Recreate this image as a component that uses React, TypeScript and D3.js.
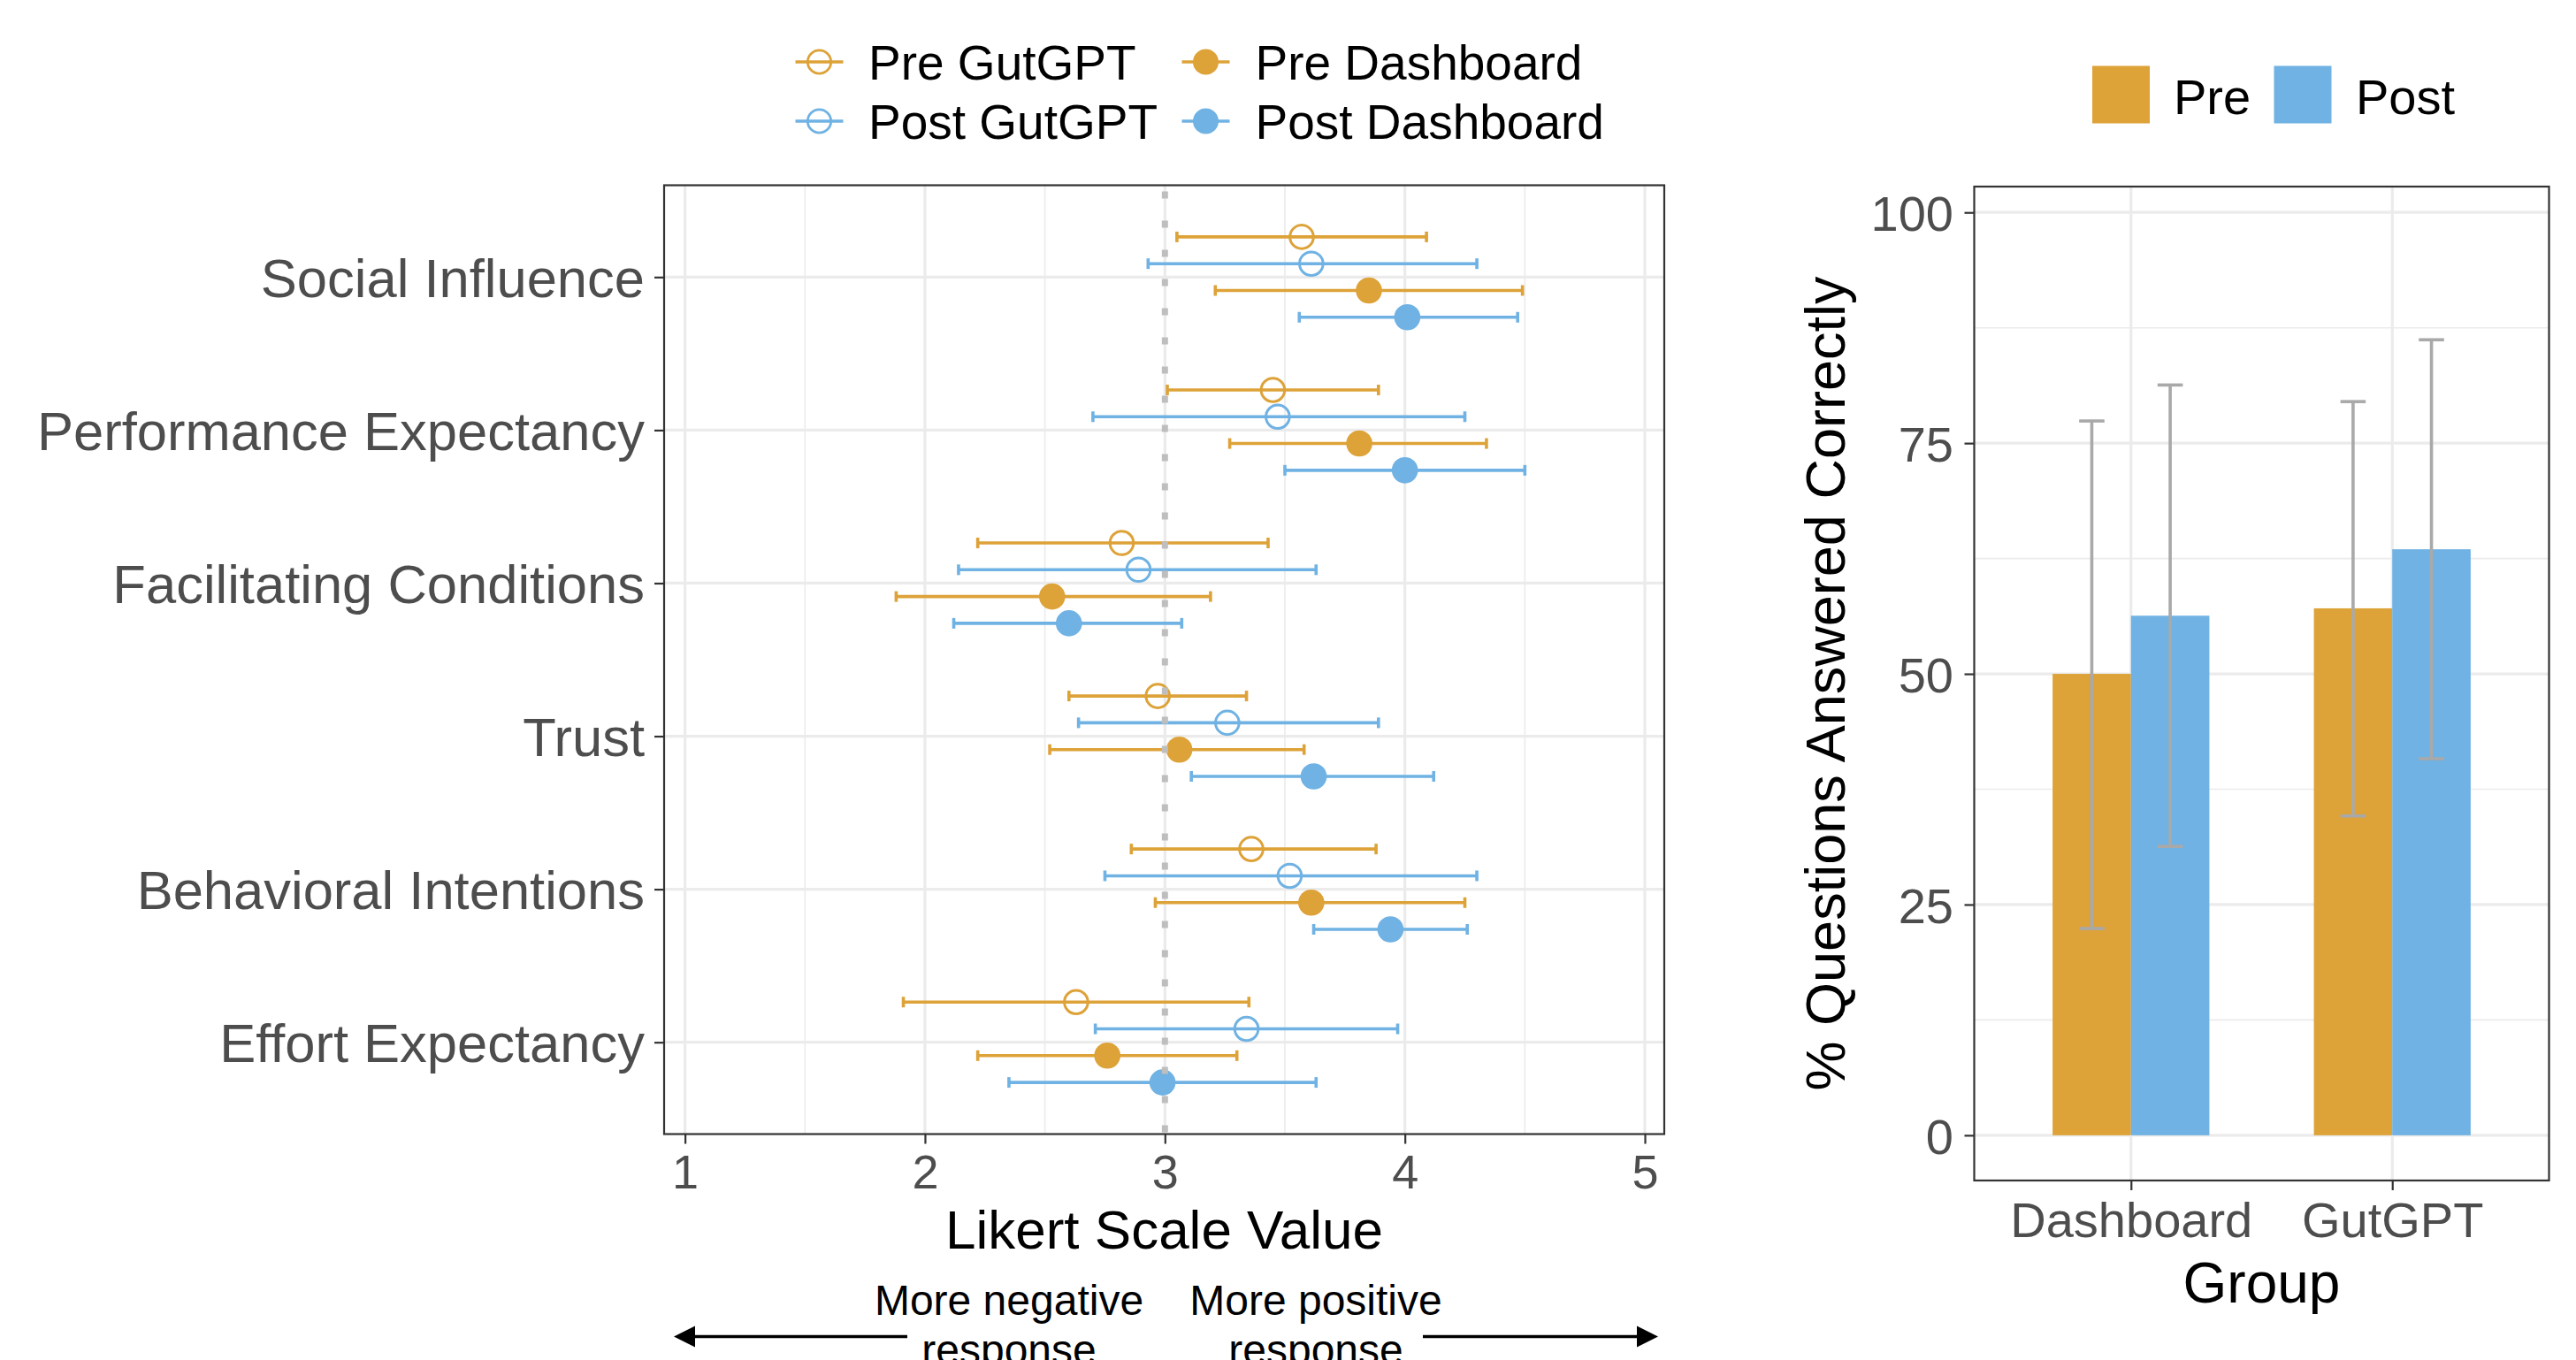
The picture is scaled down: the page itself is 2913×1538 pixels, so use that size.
import React, { useRef, useEffect } from 'react';
import * as d3 from 'd3';

const W = 2913;
const H = 1538;
const FONT = '"Liberation Sans", Arial, Helvetica, sans-serif';
const ORANGE = '#DDA238';
const BLUE = '#6FB2E3';
const GRID = '#EBEBEB';
const INK = '#333333';
const TICK_TEXT = '#4D4D4D';

// left panel: mean Likert score with 95% CI per construct
const constructs = [
  'Social Influence',
  'Performance Expectancy',
  'Facilitating Conditions',
  'Trust',
  'Behavioral Intentions',
  'Effort Expectancy',
];
const seriesNames = ['Pre GutGPT', 'Post GutGPT', 'Pre Dashboard', 'Post Dashboard'];

const preGutGPTMean = [3.57, 3.45, 2.82, 2.97, 3.36, 2.63];
const preGutGPTLow = [3.05, 3.01, 2.22, 2.6, 2.86, 1.91];
const preGutGPTHigh = [4.09, 3.89, 3.43, 3.34, 3.88, 3.35];

const postGutGPTMean = [3.61, 3.47, 2.89, 3.26, 3.52, 3.34];
const postGutGPTLow = [2.93, 2.7, 2.14, 2.64, 2.75, 2.71];
const postGutGPTHigh = [4.3, 4.25, 3.63, 3.89, 4.3, 3.97];

const preDashMean = [3.85, 3.81, 2.53, 3.06, 3.61, 2.76];
const preDashLow = [3.21, 3.27, 1.88, 2.52, 2.96, 2.22];
const preDashHigh = [4.49, 4.34, 3.19, 3.58, 4.25, 3.3];

const postDashMean = [4.01, 4.0, 2.6, 3.62, 3.94, 2.99];
const postDashLow = [3.56, 3.5, 2.12, 3.11, 3.62, 2.35];
const postDashHigh = [4.47, 4.5, 3.07, 4.12, 4.26, 3.63];

const likertTicks = [1, 2, 3, 4, 5];

// right panel: % questions answered correctly
const groups = ['Dashboard', 'GutGPT'];
const phases = ['Pre', 'Post'];
const prePct = [50.0, 57.1];
const preLow = [22.4, 34.6];
const preHigh = [77.4, 79.5];
const postPct = [56.3, 63.5];
const postLow = [31.3, 40.8];
const postHigh = [81.3, 86.2];
const pctTicks = [0, 25, 50, 75, 100];

const App = () => {
  const ref = useRef(null);

  useEffect(() => {
    document.body.style.margin = '0';
    document.body.style.overflow = 'hidden';

    const svg = d3.select(ref.current);
    svg.selectAll('*').remove();
    svg.append('rect').attr('width', W).attr('height', H).attr('fill', 'white');

    const series = [
      { name: seriesNames[0], mean: preGutGPTMean, lo: preGutGPTLow, hi: preGutGPTHigh, color: ORANGE, filled: false },
      { name: seriesNames[1], mean: postGutGPTMean, lo: postGutGPTLow, hi: postGutGPTHigh, color: BLUE, filled: false },
      { name: seriesNames[2], mean: preDashMean, lo: preDashLow, hi: preDashHigh, color: ORANGE, filled: true },
      { name: seriesNames[3], mean: postDashMean, lo: postDashLow, hi: postDashHigh, color: BLUE, filled: true },
    ];

    // ---------- left panel ----------
    const L = { left: 751, right: 1882, top: 209.5, bottom: 1282.5 };
    const x = d3.scaleLinear().domain([0.913, 5.081]).range([L.left, L.right]);
    const y = d3.scalePoint().domain(constructs).range([L.top, L.bottom]).padding(0.6);
    const step = y.step();
    const dodge = 0.175 * step;

    const lp = svg.append('g');
    // grid
    lp.selectAll('.vminor')
      .data([1.5, 2.5, 3.5, 4.5])
      .join('line')
      .attr('x1', d => x(d)).attr('x2', d => x(d))
      .attr('y1', L.top).attr('y2', L.bottom)
      .attr('stroke', GRID).attr('stroke-width', 1.6);
    lp.selectAll('.vmajor')
      .data(likertTicks)
      .join('line')
      .attr('x1', d => x(d)).attr('x2', d => x(d))
      .attr('y1', L.top).attr('y2', L.bottom)
      .attr('stroke', GRID).attr('stroke-width', 3.2);
    lp.selectAll('.hmajor')
      .data(constructs)
      .join('line')
      .attr('x1', L.left).attr('x2', L.right)
      .attr('y1', d => y(d)).attr('y2', d => y(d))
      .attr('stroke', GRID).attr('stroke-width', 3.2);

    // error bars + points
    series.forEach((s, i) => {
      const off = (i - 1.5) * dodge;
      const g = lp.append('g');
      const rows = constructs.map((c, j) => ({ c, m: s.mean[j], lo: s.lo[j], hi: s.hi[j] }));
      g.selectAll('.bar')
        .data(rows)
        .join('line')
        .attr('x1', d => x(d.lo)).attr('x2', d => x(d.hi))
        .attr('y1', d => y(d.c) + off).attr('y2', d => y(d.c) + off)
        .attr('stroke', s.color).attr('stroke-width', 3.6);
      ['lo', 'hi'].forEach(k => {
        g.selectAll('.cap' + k)
          .data(rows)
          .join('line')
          .attr('x1', d => x(d[k])).attr('x2', d => x(d[k]))
          .attr('y1', d => y(d.c) + off - 6).attr('y2', d => y(d.c) + off + 6)
          .attr('stroke', s.color).attr('stroke-width', 3.6);
      });
      g.selectAll('circle')
        .data(rows)
        .join('circle')
        .attr('cx', d => x(d.m))
        .attr('cy', d => y(d.c) + off)
        .attr('r', s.filled ? 14.8 : 13.3)
        .attr('fill', s.filled ? s.color : 'none')
        .attr('stroke', s.filled ? 'none' : s.color)
        .attr('stroke-width', 3);
    });

    // neutral reference line
    lp.append('line')
      .attr('x1', x(3)).attr('x2', x(3))
      .attr('y1', L.top).attr('y2', L.bottom)
      .attr('stroke', '#BEBEBE').attr('stroke-width', 7)
      .attr('stroke-dasharray', '8 25').attr('stroke-dashoffset', -7);

    lp.append('rect')
      .attr('x', L.left).attr('y', L.top)
      .attr('width', L.right - L.left).attr('height', L.bottom - L.top)
      .attr('fill', 'none').attr('stroke', INK).attr('stroke-width', 2.2);

    const xAxis = lp.append('g')
      .attr('transform', `translate(0,${L.bottom})`)
      .call(d3.axisBottom(x).tickValues(likertTicks).tickSize(11).tickPadding(12).tickFormat(d3.format('d')));
    xAxis.select('.domain').remove();
    xAxis.selectAll('line').attr('stroke', INK).attr('stroke-width', 2.2);
    xAxis.selectAll('text').attr('fill', TICK_TEXT).attr('font-size', 54).attr('font-family', FONT);

    const yAxis = lp.append('g')
      .attr('transform', `translate(${L.left},0)`)
      .call(d3.axisLeft(y).tickSize(11).tickPadding(11));
    yAxis.select('.domain').remove();
    yAxis.selectAll('line').attr('stroke', INK).attr('stroke-width', 2.2);
    yAxis.selectAll('text').attr('fill', TICK_TEXT).attr('font-size', 61.5).attr('font-family', FONT).attr('dy', '0.36em');

    lp.append('text')
      .attr('x', (L.left + L.right) / 2).attr('y', 1411.5)
      .attr('text-anchor', 'middle')
      .attr('font-family', FONT).attr('font-size', 62).attr('fill', 'black')
      .text('Likert Scale Value');

    // direction annotation (second line runs off the bottom, as in the source figure)
    const ann = lp.append('g').attr('font-family', FONT).attr('font-size', 48).attr('fill', 'black').attr('text-anchor', 'middle');
    [['More negative', 1141], ['More positive', 1488]].forEach(([t, cx]) => {
      const txt = ann.append('text').attr('x', cx).attr('y', 1486.5);
      txt.append('tspan').attr('x', cx).text(t);
      txt.append('tspan').attr('x', cx).attr('dy', 56).text('response');
    });
    const ay = 1511.5;
    lp.append('line').attr('x1', 780).attr('x2', 1026).attr('y1', ay).attr('y2', ay).attr('stroke', 'black').attr('stroke-width', 3.6);
    lp.append('path').attr('d', `M762,${ay}L786,${ay - 12}L786,${ay + 12}Z`).attr('fill', 'black');
    lp.append('line').attr('x1', 1609).attr('x2', 1857).attr('y1', ay).attr('y2', ay).attr('stroke', 'black').attr('stroke-width', 3.6);
    lp.append('path').attr('d', `M1875,${ay}L1851,${ay - 12}L1851,${ay + 12}Z`).attr('fill', 'black');

    // left legend
    const leg = svg.append('g').attr('font-family', FONT).attr('font-size', 55).attr('fill', 'black');
    const legPos = [
      { kx: 926.5, tx: 982, cy: 70 },
      { kx: 926.5, tx: 982, cy: 137 },
      { kx: 1363.5, tx: 1419.5, cy: 70 },
      { kx: 1363.5, tx: 1419.5, cy: 137 },
    ];
    series.forEach((s, i) => {
      const p = legPos[i];
      leg.append('line')
        .attr('x1', p.kx - 27).attr('x2', p.kx + 27).attr('y1', p.cy).attr('y2', p.cy)
        .attr('stroke', s.color).attr('stroke-width', 3.4);
      leg.append('circle')
        .attr('cx', p.kx).attr('cy', p.cy).attr('r', s.filled ? 14.5 : 13.2)
        .attr('fill', s.filled ? s.color : 'none')
        .attr('stroke', s.filled ? 'none' : s.color).attr('stroke-width', 2.8);
      leg.append('text').attr('x', p.tx).attr('y', p.cy + 20).text(s.name);
    });

    // ---------- right panel ----------
    const R = { left: 2232.5, right: 2882.5, top: 211, bottom: 1335 };
    const gx = d3.scalePoint().domain(groups).range([R.left, R.right]).padding(0.6);
    const gStep = gx.step();
    const px = d3.scaleBand().domain(phases).range([-0.3 * gStep, 0.3 * gStep]);
    const py = d3.scaleLinear().domain([-4.9, 102.8]).range([R.bottom, R.top]);

    const rp = svg.append('g');
    rp.selectAll('.hminor')
      .data([12.5, 37.5, 62.5, 87.5])
      .join('line')
      .attr('x1', R.left).attr('x2', R.right)
      .attr('y1', d => py(d)).attr('y2', d => py(d))
      .attr('stroke', GRID).attr('stroke-width', 1.6);
    rp.selectAll('.hmajor')
      .data(pctTicks)
      .join('line')
      .attr('x1', R.left).attr('x2', R.right)
      .attr('y1', d => py(d)).attr('y2', d => py(d))
      .attr('stroke', GRID).attr('stroke-width', 3.2);
    rp.selectAll('.vmajor')
      .data(groups)
      .join('line')
      .attr('x1', d => gx(d)).attr('x2', d => gx(d))
      .attr('y1', R.top).attr('y2', R.bottom)
      .attr('stroke', GRID).attr('stroke-width', 3.2);

    const bars = groups.flatMap((g, i) => [
      { g, phase: 'Pre', v: prePct[i], lo: preLow[i], hi: preHigh[i], color: ORANGE },
      { g, phase: 'Post', v: postPct[i], lo: postLow[i], hi: postHigh[i], color: BLUE },
    ]);
    rp.selectAll('.bar')
      .data(bars)
      .join('rect')
      .attr('x', d => gx(d.g) + px(d.phase))
      .attr('width', px.bandwidth())
      .attr('y', d => py(d.v))
      .attr('height', d => py(0) - py(d.v))
      .attr('fill', d => d.color);
    const bc = d => gx(d.g) + px(d.phase) + px.bandwidth() / 2;
    rp.selectAll('.err')
      .data(bars)
      .join('line')
      .attr('x1', bc).attr('x2', bc)
      .attr('y1', d => py(d.lo)).attr('y2', d => py(d.hi))
      .attr('stroke', '#A9A9A9').attr('stroke-width', 3.6);
    ['lo', 'hi'].forEach(k => {
      rp.selectAll('.cap' + k)
        .data(bars)
        .join('line')
        .attr('x1', d => bc(d) - 14.3).attr('x2', d => bc(d) + 14.3)
        .attr('y1', d => py(d[k])).attr('y2', d => py(d[k]))
        .attr('stroke', '#A9A9A9').attr('stroke-width', 3.6);
    });

    rp.append('rect')
      .attr('x', R.left).attr('y', R.top)
      .attr('width', R.right - R.left).attr('height', R.bottom - R.top)
      .attr('fill', 'none').attr('stroke', INK).attr('stroke-width', 2.2);

    const gAxis = rp.append('g')
      .attr('transform', `translate(0,${R.bottom})`)
      .call(d3.axisBottom(gx).tickSize(11).tickPadding(13));
    gAxis.select('.domain').remove();
    gAxis.selectAll('line').attr('stroke', INK).attr('stroke-width', 2.2);
    gAxis.selectAll('text').attr('fill', TICK_TEXT).attr('font-size', 56).attr('font-family', FONT);

    const pAxis = rp.append('g')
      .attr('transform', `translate(${R.left},0)`)
      .call(d3.axisLeft(py).tickValues(pctTicks).tickSize(11).tickPadding(12.5));
    pAxis.select('.domain').remove();
    pAxis.selectAll('line').attr('stroke', INK).attr('stroke-width', 2.2);
    pAxis.selectAll('text').attr('fill', TICK_TEXT).attr('font-size', 56).attr('font-family', FONT).attr('dy', '0.36em');

    rp.append('text')
      .attr('x', (R.left + R.right) / 2).attr('y', 1473)
      .attr('text-anchor', 'middle')
      .attr('font-family', FONT).attr('font-size', 64).attr('fill', 'black')
      .text('Group');
    rp.append('text')
      .attr('transform', `translate(2086,${(R.top + R.bottom) / 2}) rotate(-90)`)
      .attr('text-anchor', 'middle')
      .attr('font-family', FONT).attr('font-size', 63).attr('fill', 'black')
      .text('% Questions Answered Correctly');

    // right legend
    const rleg = svg.append('g').attr('font-family', FONT).attr('font-size', 56).attr('fill', 'black');
    [
      { label: phases[0], color: ORANGE, sx: 2366, tx: 2458 },
      { label: phases[1], color: BLUE, sx: 2571.5, tx: 2664 },
    ].forEach(d => {
      rleg.append('rect').attr('x', d.sx).attr('y', 74.5).attr('width', 65).attr('height', 65).attr('fill', d.color);
      rleg.append('text').attr('x', d.tx).attr('y', 128.5).text(d.label);
    });
  }, []);

  return <svg ref={ref} width={W} height={H} style={{ position: 'absolute', left: 0, top: 0, display: 'block' }} />;
};

export default App;
